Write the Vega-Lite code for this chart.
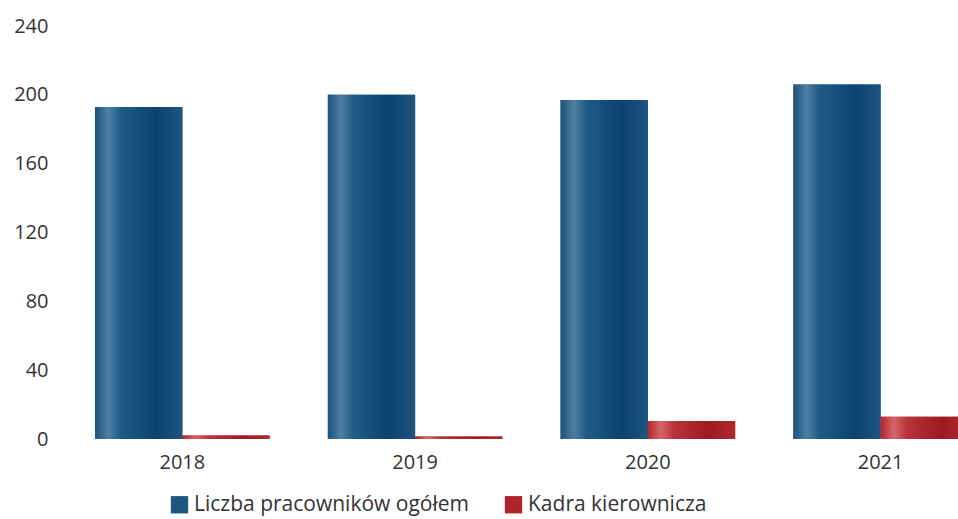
{
  "$schema": "https://vega.github.io/schema/vega-lite/v6.json",
  "width": 931,
  "height": 413,
  "autosize": {"type": "none"},
  "padding": {"left": 66, "top": 26, "right": 0, "bottom": 80},
  "background": "white",
  "config": {
    "view": {"stroke": null},
    "font": "Open Sans",
    "axis": {"labelFont": "Open Sans", "labelColor": "#333333", "labelFontSize": 20, "grid": false, "domain": false, "ticks": false, "title": null},
    "legend": {"labelFont": "Open Sans", "labelFontSize": 21, "labelColor": "#333333", "labelLimit": 500}
  },
  "data": {
    "values": [
      {"year": "2018", "series": "Liczba pracowników ogółem", "value": 193},
      {"year": "2018", "series": "Kadra kierownicza", "value": 2},
      {"year": "2019", "series": "Liczba pracowników ogółem", "value": 200},
      {"year": "2019", "series": "Kadra kierownicza", "value": 1.5},
      {"year": "2020", "series": "Liczba pracowników ogółem", "value": 197},
      {"year": "2020", "series": "Kadra kierownicza", "value": 10.5},
      {"year": "2021", "series": "Liczba pracowników ogółem", "value": 206},
      {"year": "2021", "series": "Kadra kierownicza", "value": 13}
    ]
  },
  "encoding": {
    "x": {
      "field": "year", "type": "nominal",
      "scale": {"paddingInner": 0.25, "paddingOuter": 0.125},
      "axis": {"labelAngle": 0, "labelPadding": 13}
    },
    "xOffset": {"field": "series", "type": "nominal", "sort": ["Liczba pracowników ogółem", "Kadra kierownicza"], "scale": {"paddingInner": 0, "paddingOuter": 0}},
    "y": {
      "field": "value", "type": "quantitative",
      "scale": {"domain": [0, 240], "nice": false},
      "axis": {"values": [0, 40, 80, 120, 160, 200, 240], "labelPadding": 18}
    }
  },
  "layer": [
    {
      "mark": {"type": "bar"},
      "encoding": {
        "color": {
          "field": "series", "type": "nominal",
          "sort": ["Liczba pracowników ogółem", "Kadra kierownicza"],
          "scale": {"domain": ["Liczba pracowników ogółem", "Kadra kierownicza"], "range": ["#1d5680", "#b0242b"]},
          "legend": {"title": null, "orient": "none", "direction": "horizontal", "legendX": 103, "legendY": 468, "symbolType": "square", "symbolSize": 300, "symbolStrokeWidth": 0, "columnPadding": 34, "labelOffset": 4}
        }
      }
    },
    {
      "mark": {"type": "bar"},
      "encoding": {
        "fill": {
          "condition": {
            "test": "datum.series === 'Kadra kierownicza'",
            "value": {"gradient": "linear", "x1": 0, "y1": 0, "x2": 1, "y2": 0, "stops": [
              {"offset": 0, "color": "#b3262d"},
              {"offset": 0.15, "color": "#d4666b"},
              {"offset": 0.3, "color": "#b8333a"},
              {"offset": 0.7, "color": "#9e1a21"},
              {"offset": 1, "color": "#b02a30"}
            ]}
          },
          "value": {"gradient": "linear", "x1": 0, "y1": 0, "x2": 1, "y2": 0, "stops": [
            {"offset": 0, "color": "#1c527c"},
            {"offset": 0.15, "color": "#4f7ea3"},
            {"offset": 0.3, "color": "#1f5b86"},
            {"offset": 0.7, "color": "#0d426e"},
            {"offset": 1, "color": "#1d5680"}
          ]}
        }
      }
    }
  ]
}
